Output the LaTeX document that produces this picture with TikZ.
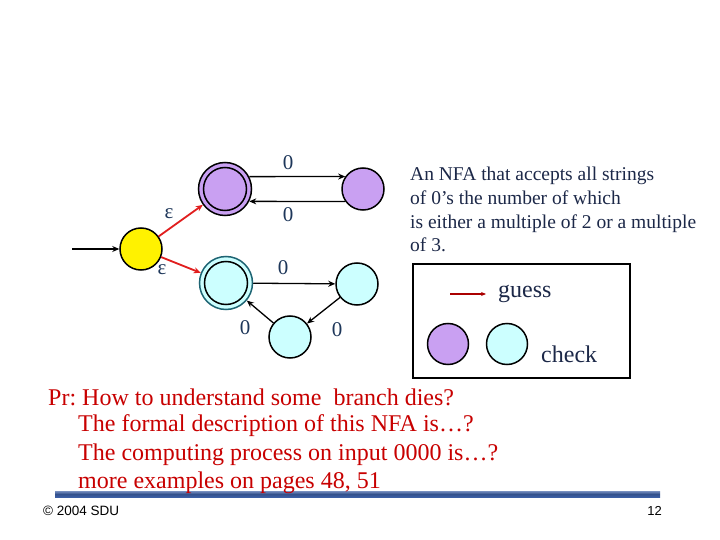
\documentclass[tikz,border=0pt]{standalone}
\usepackage{fontspec}
\setmainfont{Liberation Serif}
\setsansfont{Liberation Sans}
\usetikzlibrary{arrows.meta}
\definecolor{lav}{RGB}{201,160,242}
\definecolor{lcyan}{RGB}{204,255,255}
\definecolor{teal2}{RGB}{30,100,115}
\definecolor{navy}{RGB}{28,40,72}
\definecolor{labc}{RGB}{30,55,90}
\definecolor{redtxt}{RGB}{200,0,0}
\definecolor{redarr}{RGB}{225,30,30}
\definecolor{barblue}{RGB}{60,95,165}
\tikzset{
  st/.style={circle,draw=black,line width=1.5pt,minimum size=42pt,inner sep=0pt},
  outerp/.style={circle,draw=black,line width=1.5pt,fill=lav,minimum size=53pt,inner sep=0pt},
  outerc/.style={circle,draw=teal2,line width=1.5pt,fill=lcyan,minimum size=53pt,inner sep=0pt},
  innr/.style={circle,draw=black,line width=1.5pt,minimum size=43pt,inner sep=0pt},
  tr/.style={-{Stealth[length=7pt,width=6pt]},line width=1.3pt,black},
  eps/.style={-{Stealth[length=7pt,width=6pt]},line width=1.8pt,redarr},
  lab/.style={font=\fontsize{21}{21}\selectfont,text=labc,inner sep=0pt},
  elab/.style={font=\fontsize{21}{21}\selectfont,text=labc,inner sep=0pt},
  body/.style={font=\fontsize{19.5}{23.7}\selectfont,text=navy,align=left,inner sep=0pt},
  redl/.style={font=\fontsize{24}{24}\selectfont,text=redtxt,anchor=west,inner sep=0pt},
}
\begin{document}
\frenchspacing
\begin{tikzpicture}[x=1pt,y=-1pt]
\useasboundingbox (0,0) rectangle (720,540);
\fill[white] (0,0) rectangle (720,540);
% states
\node[st,fill=yellow] (q0) at (141,249) {};
\node[outerp] (p0) at (225,189) {};
\node[innr] (p0i) at (225,189) {};
\node[st,fill=lav] (p1) at (363,189) {};
\node[outerc] (c0) at (226,283) {};
\node[innr] (c0i) at (226,283) {};
\node[st,fill=lcyan] (c1) at (357,284) {};
\node[st,fill=lcyan] (c2) at (290,337) {};
\coordinate (start) at (72,249);
% edges
\draw[tr] (start) -- (q0);
\draw[eps] (q0) -- (p0);
\draw[eps] (q0) -- (c0);
\draw[tr] (p0.27) -- (p1.145);
\draw[tr] (p1.215) -- (p0.-27);
\draw[tr] (c0) -- (c1);
\draw[tr] (c1) -- (c2);
\draw[tr] (c2) -- (c0);
% labels
\node[lab] (l1) at (288,163) {0};
\node[lab] (l2) at (288,215) {0};
\node[elab] (e1) at (169,214) {ε};
\node[elab] (e2) at (162,270) {ε};
\node[lab] (l3) at (283,268) {0};
\node[lab] (l4) at (245,328) {0};
\node[lab] (l5) at (337,330) {0};
% description
\node[body,anchor=north west] (desc) at (410,167) {An NFA that accepts all strings\\of 0’s the number of which\\is either a multiple of 2 or a multiple\\of 3.};
% legend box
\node[draw=black,line width=1.5pt,minimum width=217pt,minimum height=114pt,inner sep=0pt] (box) at (521.5,321) {};
\coordinate (ga) at (450,294);
\coordinate (gb) at (486,294);
\draw[-{Stealth[length=5pt,width=4pt]},line width=1.5pt,redtxt!85!black] (ga) -- (gb);
\node[font=\fontsize{24}{24}\selectfont,text=navy,anchor=west,inner sep=0pt] (guess) at (498,294) {guess};
\node[st,fill=lav,minimum size=41pt] (lp) at (448,344) {};
\node[st,fill=lcyan,minimum size=41pt] (lc) at (507,344) {};
\node[font=\fontsize{24}{24}\selectfont,text=navy,anchor=west,inner sep=0pt] (check) at (541,354) {check};
% bottom bar
\shade[top color=barblue!70!white,bottom color=barblue,middle color=barblue!85!black] (55,491) rectangle (660,497);
% red text
\node[redl] (r1) at (48,397) {Pr: How to understand some\ \ branch dies?};
\node[redl] (r2) at (78,426) {The formal description of this NFA is…?};
\node[redl] (r3) at (78,455) {The computing process on input 0000 is…?};
\node[redl] (r4) at (78,483) {more examples on pages 48, 51};
% footer
\node[font=\sffamily\fontsize{13.5}{13.5}\selectfont,anchor=west,inner sep=0pt] (ft) at (43,511) {© 2004 SDU};
\node[font=\sffamily\fontsize{13}{13}\selectfont,anchor=east,inner sep=0pt] (pg) at (662,511) {12};
\end{tikzpicture}
\end{document}
